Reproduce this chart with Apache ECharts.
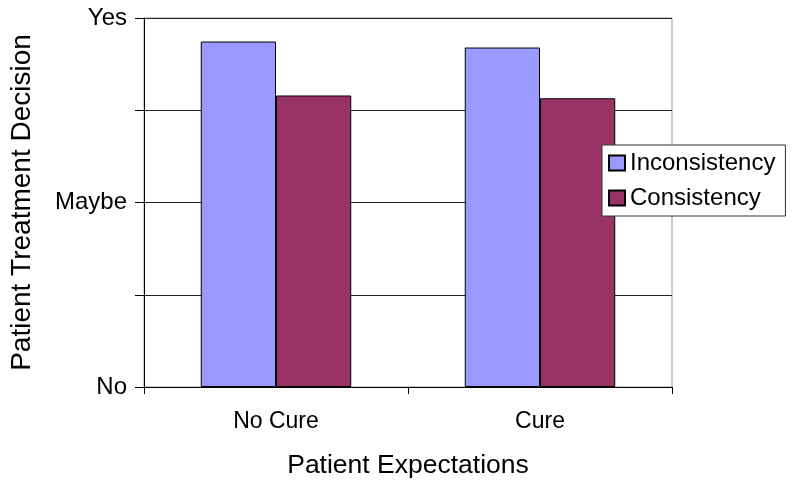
<!DOCTYPE html>
<html>
<head>
<meta charset="utf-8">
<script src="https://cdn.jsdelivr.net/npm/echarts@6/dist/echarts.min.js"></script>
<style>html,body{margin:0;padding:0;background:#fff}#c{width:800px;height:489px}</style>
</head>
<body>
<div id="c"></div>
<script>
const categories = ["No Cure", "Cure"];
const inconsistency = [3.745, 3.68];
const consistency = [3.16, 3.13];
const yTickLabels = {0: "No", 2: "Maybe", 4: "Yes"};
const seriesNames = ["Inconsistency", "Consistency"];

const chart = echarts.init(document.getElementById('c'), null, {renderer: 'canvas'});
const font = 'Liberation Sans, Arial, sans-serif';
chart.setOption({
  animation: false,
  backgroundColor: '#fff',
  textStyle: {fontFamily: font},
  grid: {left: 144, right: 128, top: 18, bottom: 102, show: true, borderColor: '#999', borderWidth: 1},
  legend: {
    orient: 'vertical', left: 602, top: 145, width: 187,
    padding: [6, 10, 6, 6], itemGap: 11,
    backgroundColor: '#fff', borderColor: '#333', borderWidth: 1,
    itemWidth: 16, itemHeight: 15,
    textStyle: {fontSize: 24, color: '#000', fontFamily: font},
    data: seriesNames.map(n => ({name: n, icon: 'rect'}))
  },
  xAxis: {
    type: 'category', data: categories,
    name: 'Patient Expectations', nameLocation: 'middle', nameGap: 65,
    nameTextStyle: {fontSize: 26.5, color: '#000', fontFamily: font},
    axisLine: {lineStyle: {color: '#000', width: 1}},
    axisTick: {show: true, length: 7, lineStyle: {color: '#000'}},
    axisLabel: {fontSize: 23, color: '#000', margin: 23, fontFamily: font}
  },
  yAxis: {
    type: 'value', min: 0, max: 4, interval: 1,
    name: 'Patient Treatment Decision', nameLocation: 'middle', nameGap: 108,
    nameTextStyle: {fontSize: 28, color: '#000', fontFamily: font},
    axisLine: {show: true, lineStyle: {color: '#000', width: 1}},
    axisTick: {show: true, length: 9, lineStyle: {color: '#000'}},
    axisLabel: {fontSize: 24, color: '#000', margin: 17, fontFamily: font,
      formatter: v => yTickLabels[v] || ''},
    splitLine: {show: true, lineStyle: {color: '#222', width: 1}}
  },
  series: [
    {name: seriesNames[0], type: 'bar', data: inconsistency, barGap: '0%', barCategoryGap: '43%',
     itemStyle: {color: '#9999FF', borderColor: '#000', borderWidth: 1}},
    {name: seriesNames[1], type: 'bar', data: consistency, barGap: '0%', barCategoryGap: '43%',
     itemStyle: {color: '#993366', borderColor: '#000', borderWidth: 1}}
  ]
});
</script>
</body>
</html>
